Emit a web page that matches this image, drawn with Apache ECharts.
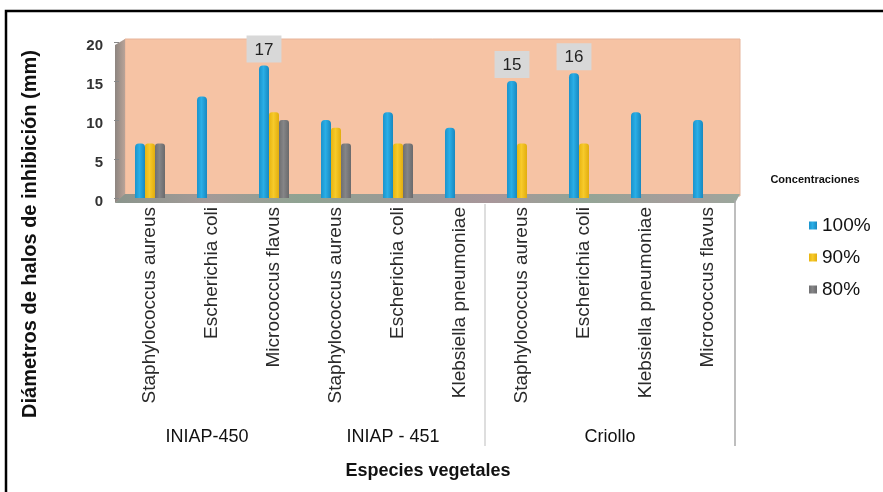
<!DOCTYPE html>
<html>
<head>
<meta charset="utf-8">
<script src="https://cdn.jsdelivr.net/npm/echarts@6/dist/echarts.min.js"></script>
<style>
html,body{margin:0;padding:0;background:#fff;}
#chart{width:883px;height:492px;}
</style>
</head>
<body>
<div id="chart"></div>
<script>
var categories = ['Staphylococcus aureus','Escherichia coli','Micrococcus flavus',
  'Staphylococcus aureus','Escherichia coli','Klebsiella pneumoniae',
  'Staphylococcus aureus','Escherichia coli','Klebsiella pneumoniae','Micrococcus flavus'];
var groups = ['INIAP-450','INIAP - 451','Criollo'];
var seriesNames = ['100%','90%','80%'];
var conc100 = [7,13,17,10,11,9,15,16,11,10];
var conc90 = [7,'-',11,9,7,'-',7,7,'-','-'];
var conc80 = [7,'-',10,7,7,'-','-','-','-','-'];
var labeledValues = [17,15,16];
var yTicks = [0,5,10,15,20];

var FONT = "'Liberation Sans', Arial, sans-serif";
var chart = echarts.init(document.getElementById('chart'));

function withLabels(arr){
  return arr.map(function(v){
    if (labeledValues.indexOf(v) >= 0) {
      return {value: v, label: {show: true}};
    }
    return v;
  });
}
function barGrad(c0, c1, c2){
  return new echarts.graphic.LinearGradient(0,0,1,0,[{offset:0,color:c0},{offset:0.45,color:c1},{offset:1,color:c2}]);
}

var option = {
  animation: false,
  textStyle: {fontFamily: FONT},
  grid: {left: 119, right: 144, top: 42, bottom: 294},
  legend: {
    data: seriesNames,
    orient: 'vertical',
    left: 804, top: 211,
    icon: 'rect', itemWidth: 8, itemHeight: 8, itemGap: 13,
    textStyle: {fontSize: 19, color: '#111', fontFamily: FONT}
  },
  xAxis: {
    type: 'category',
    data: categories,
    axisLine: {show: false},
    axisTick: {show: false},
    axisLabel: {rotate: 90, fontSize: 19, color: '#2a2a2a', margin: 9, interval: 0, fontFamily: FONT}
  },
  yAxis: {
    type: 'value', min: 0, max: 20, interval: 5,
    splitLine: {show: false},
    axisLine: {show: false},
    axisTick: {show: true, length: 5, lineStyle: {color: '#888'}},
    axisLabel: {margin: 16, fontFamily: FONT,
      formatter: function(v){ return yTicks.indexOf(v) >= 0 ? '{a|' + v + '}' : ''; },
      rich: {a: {fontSize: 15, fontWeight: 'bold', color: '#333', padding: [7,0,0,0], fontFamily: FONT}}}
  },
  series: [
    {name: seriesNames[0], type: 'bar', data: withLabels(conc100), barWidth: 10, barGap: '0%', z: 10,
      itemStyle: {color: barGrad('#1a93cc','#2aaee6','#1888c0'), borderRadius: [4,4,0,0]},
      label: {show: false, position: 'top', distance: 3, backgroundColor: '#d8d8d8', padding: [6,8,4,8],
        fontSize: 17, color: '#222', fontFamily: FONT}},
    {name: seriesNames[1], type: 'bar', data: conc90, barWidth: 10, barGap: '0%', z: 10,
      itemStyle: {color: barGrad('#e8b410','#f7ca2a','#e2ad0e'), borderRadius: [3,3,0,0]}},
    {name: seriesNames[2], type: 'bar', data: conc80, barWidth: 10, barGap: '0%', z: 10,
      itemStyle: {color: barGrad('#6f6f71','#858587','#6a6a6c'), borderRadius: [3,3,0,0]}}
  ]
};
chart.setOption(option);

chart.setOption({
  graphic: [
    {type: 'rect', z: -10, shape: {x: 6, y: 11, width: 900, height: 500},
      style: {fill: 'none', stroke: '#000', lineWidth: 2.5}},
    {type: 'rect', z: -9, shape: {x: 125, y: 39, width: 615, height: 157},
      style: {fill: '#f6c3a4', stroke: '#e6b49a', lineWidth: 1}},
    {type: 'polygon', z: -8, shape: {points: [[115,45],[125,39],[125,196],[115,203]]},
      style: {fill: new echarts.graphic.LinearGradient(0,0,1,0,[{offset:0,color:'#8d8580'},{offset:1,color:'#b8a398'}])}},
    {type: 'polygon', z: -8, shape: {points: [[115,203],[125,194],[740,194],[735,203]]},
      style: {fill: new echarts.graphic.LinearGradient(0,0,1,0,[
        {offset:0,color:'#8a958c'},{offset:0.15,color:'#a39a98'},{offset:0.3,color:'#8fa392'},
        {offset:0.45,color:'#9a9a96'},{offset:0.6,color:'#a8969a'},{offset:0.75,color:'#93a596'},
        {offset:0.9,color:'#a69d9c'},{offset:1,color:'#9aa89c'}])}},
    {type: 'line', z: -8, shape: {x1: 485, y1: 204, x2: 485, y2: 446}, style: {stroke: '#bdbdbd', lineWidth: 1}},
    {type: 'line', z: -8, shape: {x1: 735, y1: 200, x2: 735, y2: 446}, style: {stroke: '#a8a8a8', lineWidth: 1.5}},
    {type: 'text', x: 207, y: 437, style: {text: groups[0], font: '18px ' + FONT, fill: '#111', textAlign: 'center', textVerticalAlign: 'middle'}},
    {type: 'text', x: 393, y: 437, style: {text: groups[1], font: '18px ' + FONT, fill: '#111', textAlign: 'center', textVerticalAlign: 'middle'}},
    {type: 'text', x: 610, y: 437, style: {text: groups[2], font: '18px ' + FONT, fill: '#111', textAlign: 'center', textVerticalAlign: 'middle'}},
    {type: 'text', x: 428, y: 471, style: {text: 'Especies vegetales', font: 'bold 18px ' + FONT, fill: '#111', textAlign: 'center', textVerticalAlign: 'middle'}},
    {type: 'text', x: 30, y: 234, rotation: Math.PI/2, style: {text: 'Diámetros de halos de inhibición (mm)', font: 'bold 20px ' + FONT, fill: '#111', textAlign: 'center', textVerticalAlign: 'middle'}},
    {type: 'text', x: 815, y: 180, style: {text: 'Concentraciones', font: 'bold 11px ' + FONT, fill: '#111', textAlign: 'center', textVerticalAlign: 'middle'}}
  ]
});
</script>
</body>
</html>
